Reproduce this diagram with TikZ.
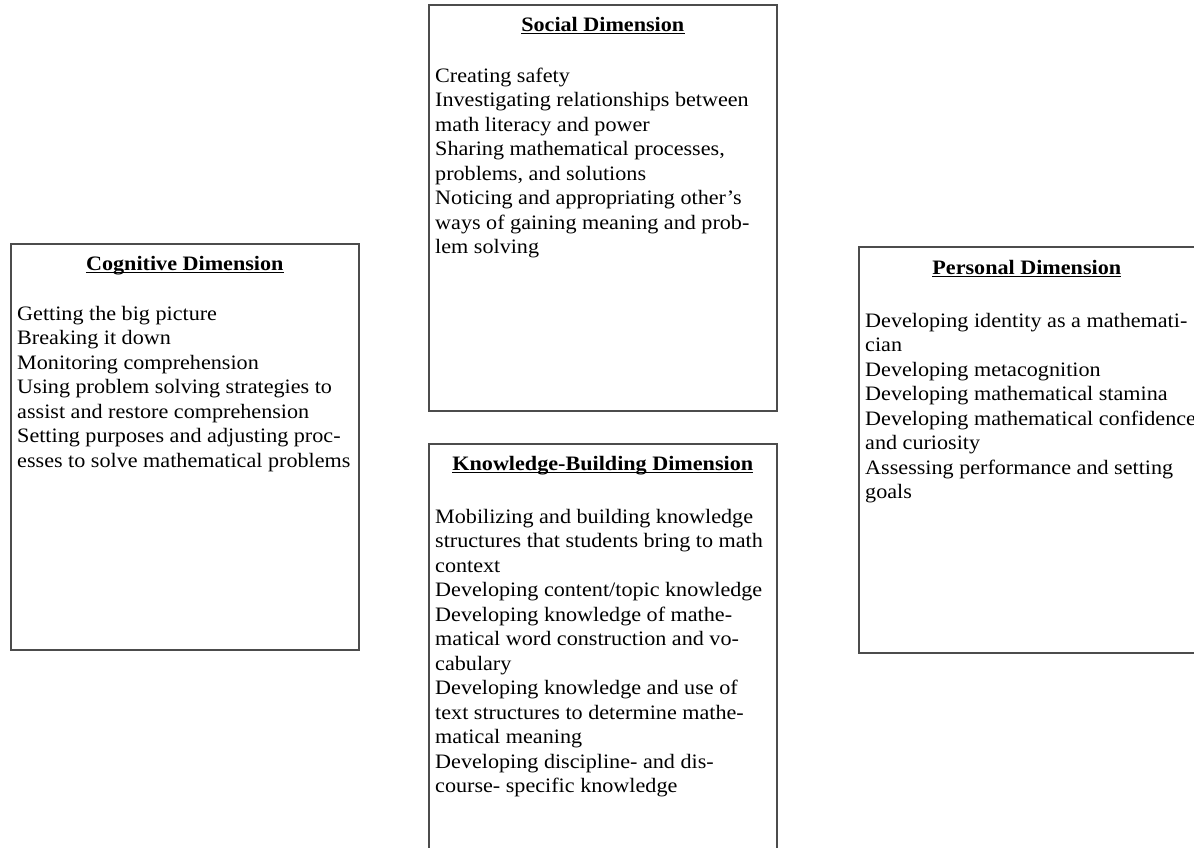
\documentclass[tikz,border=0pt]{standalone}
\usepackage{fontspec}
\setmainfont{Liberation Serif}[FakeStretch=1.08]
\begin{document}
\begin{tikzpicture}[x=1pt,y=-1pt,
  dimbox/.style={draw=black!70, line width=1.6pt, minimum width=348pt, minimum height=406pt, anchor=north west, inner sep=0pt},
  dimtitle/.style={font=\fontsize{20.5}{24.5}\selectfont\bfseries, inner sep=0pt, anchor=base},
  dimbody/.style={font=\fontsize{20.5}{24.5}\selectfont, inner sep=0pt, anchor=north west, align=left},
  uline/.style={line width=1.2pt, black}]
\useasboundingbox (0,0) rectangle (1194,847);
\fill[white] (0,0) rectangle (1194,847);

% boxes
\node[dimbox] (social) at (428,4) {};
\node[dimbox] (cognitive) at (10,243) {};
\node[dimbox] (personal) at (858,246) {};
\node[dimbox] (knowledge) at (428,443) {};

% titles
\node[dimtitle] (socialT) at ([yshift=-27pt]social.north) {Social Dimension};
\node[dimtitle] (cognitiveT) at ([yshift=-27pt]cognitive.north) {Cognitive Dimension};
\node[dimtitle] (personalT) at ([xshift=-6pt,yshift=-28pt]personal.north) {Personal Dimension};
\node[dimtitle] (knowledgeT) at ([yshift=-27pt]knowledge.north) {Knowledge-Building Dimension};

\foreach \t in {socialT,cognitiveT,personalT,knowledgeT}{
  \draw[uline] ([yshift=-2.8pt]\t.base west) -- ([yshift=-2.8pt]\t.base east);
}

% bodies
\node[dimbody] (socialB) at ([xshift=7pt,yshift=-60.8pt]social.north west) {\strut Creating safety\\
Investigating relationships between\\
math literacy and power\\
Sharing mathematical processes,\\
problems, and solutions\\
Noticing and appropriating other’s\\
ways of gaining meaning and prob-\\
lem solving};

\node[dimbody] (cognitiveB) at ([xshift=7pt,yshift=-60pt]cognitive.north west) {\strut Getting the big picture\\
Breaking it down\\
Monitoring comprehension\\
Using problem solving strategies to\\
assist and restore comprehension\\
Setting purposes and adjusting proc-\\
esses to solve mathematical problems};

\node[dimbody] (personalB) at ([xshift=7pt,yshift=-64pt]personal.north west) {\strut Developing identity as a mathemati-\\
cian\\
Developing metacognition\\
Developing mathematical stamina\\
Developing mathematical confidence\\
and curiosity\\
Assessing performance and setting\\
goals};

\node[dimbody] (knowledgeB) at ([xshift=7pt,yshift=-63pt]knowledge.north west) {\strut Mobilizing and building knowledge\\
structures that students bring to math\\
context\\
Developing content/topic knowledge\\
Developing knowledge of mathe-\\
matical word construction and vo-\\
cabulary\\
Developing knowledge and use of\\
text structures to determine mathe-\\
matical meaning\\
Developing discipline- and dis-\\
course- specific knowledge};
\end{tikzpicture}
\end{document}
